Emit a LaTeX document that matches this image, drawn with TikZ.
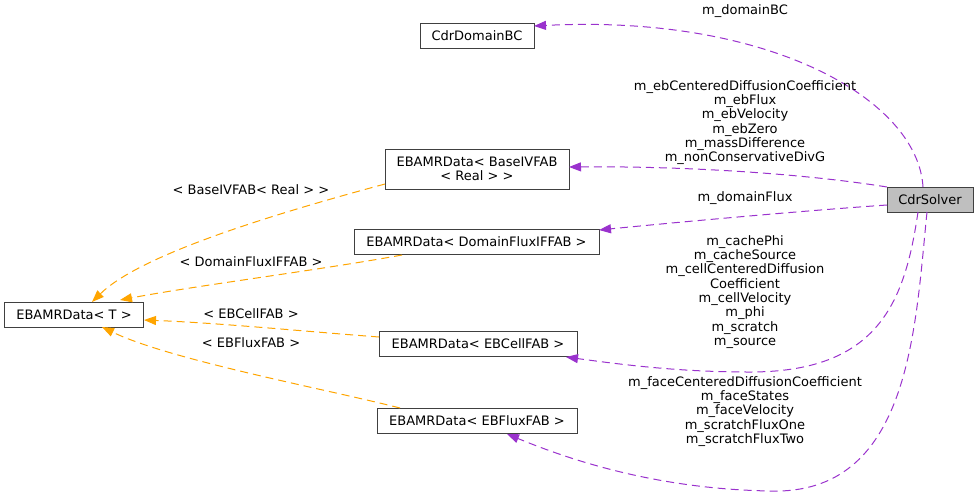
\documentclass[tikz,border=0pt]{standalone}
\usepackage{fontspec}
\setmainfont{DejaVu Sans}
\usetikzlibrary{arrows.meta}
\definecolor{edgepurple}{HTML}{9A32CD}
\definecolor{edgeorange}{HTML}{FFA500}
\definecolor{nodegray}{HTML}{BFBFBF}
\begin{document}
\begin{tikzpicture}[x=1pt,y=-1pt,
  font=\fontsize{13}{14.3}\selectfont,
  cls/.style={draw=black!75, line width=1pt, fill=white, inner sep=0pt, anchor=center, align=center},
  lbl/.style={align=center, inner sep=0pt, anchor=center},
  usage/.style={draw=edgepurple, dashed, dash pattern=on 8pt off 5pt, line width=1pt, -{Triangle[length=12pt,width=9pt]}},
  inherit/.style={draw=edgeorange, dashed, dash pattern=on 8pt off 5pt, line width=1pt, -{Triangle[length=12pt,width=9pt]}}]
\useasboundingbox (0,0) rectangle (979,496);
% nodes
\node[cls, minimum width=114pt, minimum height=25pt] (bc) at (477,35.5) {CdrDomainBC};
\node[cls, minimum width=184pt, minimum height=40pt] (ivfab) at (477,169) {EBAMRData< BaseIVFAB\\< Real > >};
\node[cls, minimum width=245pt, minimum height=25pt] (dflux) at (476.5,242) {EBAMRData< DomainFluxIFFAB >};
\node[cls, minimum width=139pt, minimum height=25pt] (T) at (74,314.5) {EBAMRData< T >};
\node[cls, minimum width=198pt, minimum height=25pt] (cell) at (478,344) {EBAMRData< EBCellFAB >};
\node[cls, minimum width=200pt, minimum height=25pt] (flux) at (477,421) {EBAMRData< EBFluxFAB >};
\node[cls, fill=nodegray, minimum width=86pt, minimum height=25pt] (solver) at (930,199.5) {CdrSolver};
% anchor coordinates
\coordinate (s1) at (923,187);
\coordinate (s2) at (887,187);
\coordinate (s3) at (887,205);
\coordinate (s4) at (918,212);
\coordinate (s5) at (927,212);
\coordinate (bcE) at (534,26);
\coordinate (ivE) at (569,167);
\coordinate (dfE) at (599,230);
\coordinate (ceE) at (566,357);
\coordinate (flE) at (507,434);
\coordinate (ivS) at (385,184);
\coordinate (dfS) at (402,255);
\coordinate (ceS) at (379,337);
\coordinate (flS) at (400,408);
\coordinate (tN1) at (92,302);
\coordinate (tN2) at (120,300);
\coordinate (tE) at (144,320);
\coordinate (tS) at (102,327);
% purple usage edges
\draw[usage] (s1) .. controls (918,100) and (770,14) .. (bcE);
\draw[usage] (s2) .. controls (800,173) and (680,166) .. (ivE);
\draw[usage] (s3) .. controls (800,211) and (680,222) .. (dfE);
\draw[usage] (s4) .. controls (905,300) and (880,372) .. (750,372) .. controls (680,372) and (625,365) .. (ceE);
\draw[usage] (s5) .. controls (915,330) and (910,495) .. (770,491) .. controls (660,489) and (575,462) .. (flE);
% orange inheritance edges
\draw[inherit] (ivS) .. controls (270,215) and (140,255) .. (tN1);
\draw[inherit] (dfS) .. controls (320,270) and (200,285) .. (tN2);
\draw[inherit] (ceS) .. controls (300,331) and (220,323) .. (tE);
\draw[inherit] (flS) .. controls (330,390) and (170,360) .. (tS);
% labels
\node[lbl] (lbc) at (745,11) {m\_domainBC};
\node[lbl] (liv) at (745,122.5) {m\_ebCenteredDiffusionCoefficient\\m\_ebFlux\\m\_ebVelocity\\m\_ebZero\\m\_massDifference\\m\_nonConservativeDivG};
\node[lbl] (ldf) at (745,198) {m\_domainFlux};
\node[lbl] (lce) at (745,292) {m\_cachePhi\\m\_cacheSource\\m\_cellCenteredDiffusion\\Coefficient\\m\_cellVelocity\\m\_phi\\m\_scratch\\m\_source};
\node[lbl] (lfl) at (745,411.5) {m\_faceCenteredDiffusionCoefficient\\m\_faceStates\\m\_faceVelocity\\m\_scratchFluxOne\\m\_scratchFluxTwo};
\node[lbl] (oiv) at (251,190) {< BaseIVFAB< Real > >};
\node[lbl] (odf) at (251,262) {< DomainFluxIFFAB >};
\node[lbl] (oce) at (251,314) {< EBCellFAB >};
\node[lbl] (ofl) at (251,343) {< EBFluxFAB >};
\end{tikzpicture}
\end{document}
